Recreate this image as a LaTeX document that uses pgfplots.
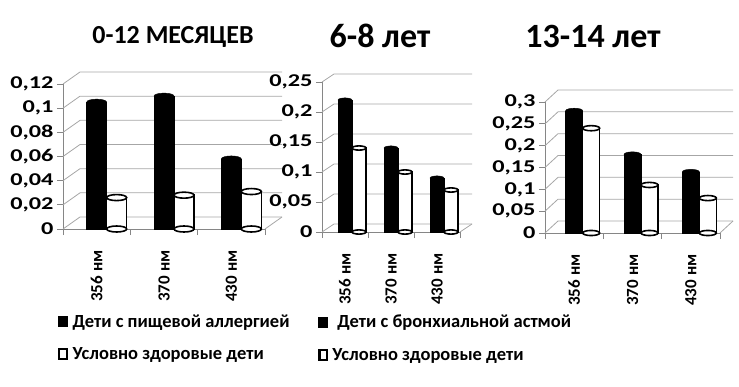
\documentclass[border=0pt]{standalone}
\usepackage{fontspec}
\setmainfont{Carlito}
\newfontfamily\widefam{Carlito}[FakeStretch=1.35]
\usepackage{pgfplots}
\pgfplotsset{compat=1.18}
\definecolor{gridc}{HTML}{A6A6A6}
\definecolor{axc}{HTML}{868686}
\newcommand{\tickfont}{\widefam\fontsize{18}{18}\selectfont\bfseries}
\newcommand{\xtickfont}{\fontsize{17}{17}\selectfont\bfseries}
\newcommand{\legfont}{\fontsize{18.5}{18.5}\selectfont\bfseries}
\pgfplotsset{
  panel/.style={
    scale only axis, anchor=south west, clip=false,
    xmin=-0.5, xmax=2.5, ymin=0, enlargelimits=false,
    axis lines*=left,
    axis line style={axc, line width=0.8pt},
    tick style={axc, line width=0.8pt},
    tick align=outside, major tick length=6pt,
    xtick={-0.5,0.5,1.5,2.5},
    x tick label as interval,
    xticklabels={356 нм,370 нм,430 нм},
    xticklabel style={rotate=90, anchor=east, font=\xtickfont},
    xticklabel shift=12pt,
    yticklabel style={font=\tickfont, /pgf/number format/.cd, fixed, use comma, precision=2},
    /pgf/number format/assume math mode=true,
  },
  blackbar/.style={ybar, bar shift=0pt, fill=black, draw=black},
  whitebar/.style={ybar, fill=white, draw=black, line width=1.6pt},
  blackleg/.style={legend image code/.code={\fill[black] (0pt,-5pt) rectangle (9pt,5pt); \path (#1,0pt);}},
  whiteleg/.style={legend image code/.code={\draw[black, line width=2.2pt, fill=white] (1pt,-4.5pt) rectangle (8.5pt,5pt); \path (#1,0pt);}},
}
\begin{document}
\begin{tikzpicture}
\useasboundingbox (0,0) rectangle (739pt,386pt);
% ---------- panel 1 ----------
\begin{axis}[panel, at={(63pt,157pt)}, width=202pt, height=145pt, ymax=0.12,
  ytick={0,0.02,0.04,0.06,0.08,0.1,0.12},
  legend style={at={(-0.04,-0.56)}, anchor=north west, draw=none, fill=none,
    font=\legfont, row sep=15pt, legend cell align=left,
    nodes={inner xsep=1pt}}]
  \pgfplotsinvokeforeach{0,0.02,0.04,0.06,0.08,0.1,0.12}{
    \draw[gridc, line width=0.8pt] (axis cs:-0.5,#1) -- ++(17pt,12pt) -- ([xshift=17pt,yshift=12pt]axis cs:2.5,#1);}
  \draw[gridc, line width=0.8pt] (axis cs:2.5,0) -- ++(17pt,12pt);
  \addplot[blackbar, blackleg=13pt, bar width=20pt] coordinates {(0,0.105) (1,0.11) (2,0.058)};
  \addlegendentry{Дети с пищевой аллергией}
  \addplot[only marks, mark=*, mark size=10pt, mark options={fill=black, draw=black, yscale=0.3}, forget plot]
    coordinates {(0,0.105) (1,0.11) (2,0.058)};
  \addplot[whitebar, whiteleg=12pt, bar width=20pt, bar shift=20pt] coordinates {(0,0.026) (1,0.028) (2,0.031)};
  \addlegendentry{Условно здоровые дети}
  \addplot[only marks, mark=*, mark size=10pt, mark options={fill=white, draw=black, line width=1.6pt, xshift=20pt, yscale=0.3}, forget plot]
    coordinates {(0,0.026) (1,0.028) (2,0.031)};
  \addplot[only marks, mark=*, mark size=10pt, mark options={fill=white, draw=black, line width=1.6pt, xshift=20pt, yscale=0.3}, forget plot]
    coordinates {(0,0) (1,0) (2,0)};
\end{axis}
% ---------- panel 2 ----------
\begin{axis}[panel, at={(322pt,154pt)}, width=138pt, height=150pt, ymax=0.25,
  ytick={0,0.05,0.1,0.15,0.2,0.25},
  legend style={at={(-0.05,-0.527)}, anchor=north west, draw=none, fill=none,
    font=\legfont, row sep=15pt, legend cell align=left,
    nodes={inner xsep=1pt}}]
  \pgfplotsinvokeforeach{0,0.05,0.1,0.15,0.2,0.25}{
    \draw[gridc, line width=0.8pt] (axis cs:-0.5,#1) -- ++(12pt,8pt) -- ([xshift=12pt,yshift=8pt]axis cs:2.5,#1);}
  \draw[gridc, line width=0.8pt] (axis cs:2.5,0) -- ++(12pt,8pt);
  \addplot[blackbar, blackleg=12pt, bar width=14pt] coordinates {(0,0.22) (1,0.14) (2,0.09)};
  \addlegendentry{\hspace{5pt}Дети с бронхиальной астмой}
  \addplot[only marks, mark=*, mark size=7pt, mark options={fill=black, draw=black, yscale=0.3}, forget plot]
    coordinates {(0,0.22) (1,0.14) (2,0.09)};
  \addplot[whitebar, whiteleg=12pt, bar width=14pt, bar shift=14pt] coordinates {(0,0.14) (1,0.10) (2,0.07)};
  \addlegendentry{Условно здоровые дети}
  \addplot[only marks, mark=*, mark size=7pt, mark options={fill=white, draw=black, line width=1.6pt, xshift=14pt, yscale=0.3}, forget plot]
    coordinates {(0,0.14) (1,0.10) (2,0.07)};
  \addplot[only marks, mark=*, mark size=7pt, mark options={fill=white, draw=black, line width=1.6pt, xshift=14pt, yscale=0.3}, forget plot]
    coordinates {(0,0) (1,0) (2,0)};
\end{axis}
% ---------- panel 3 ----------
\begin{axis}[panel, at={(545pt,153pt)}, width=175pt, height=131pt, ymax=0.3,
  ytick={0,0.05,0.1,0.15,0.2,0.25,0.3}]
  \pgfplotsinvokeforeach{0,0.05,0.1,0.15,0.2,0.25,0.3}{
    \draw[gridc, line width=0.8pt] (axis cs:-0.5,#1) -- ++(13pt,12pt) -- ([xshift=13pt,yshift=12pt]axis cs:2.5,#1);}
  \draw[gridc, line width=0.8pt] (axis cs:2.5,0) -- ++(13pt,12pt);
  \addplot[blackbar, bar width=17pt] coordinates {(0,0.28) (1,0.18) (2,0.14)};
  \addplot[only marks, mark=*, mark size=8.5pt, mark options={fill=black, draw=black, yscale=0.3}]
    coordinates {(0,0.28) (1,0.18) (2,0.14)};
  \addplot[whitebar, bar width=17pt, bar shift=17pt] coordinates {(0,0.24) (1,0.11) (2,0.08)};
  \addplot[only marks, mark=*, mark size=8.5pt, mark options={fill=white, draw=black, line width=1.6pt, xshift=17pt, yscale=0.3}]
    coordinates {(0,0.24) (1,0.11) (2,0.08)};
  \addplot[only marks, mark=*, mark size=8.5pt, mark options={fill=white, draw=black, line width=1.6pt, xshift=17pt, yscale=0.3}]
    coordinates {(0,0) (1,0) (2,0)};
\end{axis}
% ---------- titles ----------
\node[font=\fontsize{26}{26}\selectfont\bfseries] at (173pt,349pt) {0-12 МЕСЯЦЕВ};
\node[font=\fontsize{34}{34}\selectfont\bfseries] at (380pt,350pt) {6-8 лет};
\node[font=\fontsize{34}{34}\selectfont\bfseries] at (593pt,350pt) {13-14 лет};
\end{tikzpicture}
\end{document}
